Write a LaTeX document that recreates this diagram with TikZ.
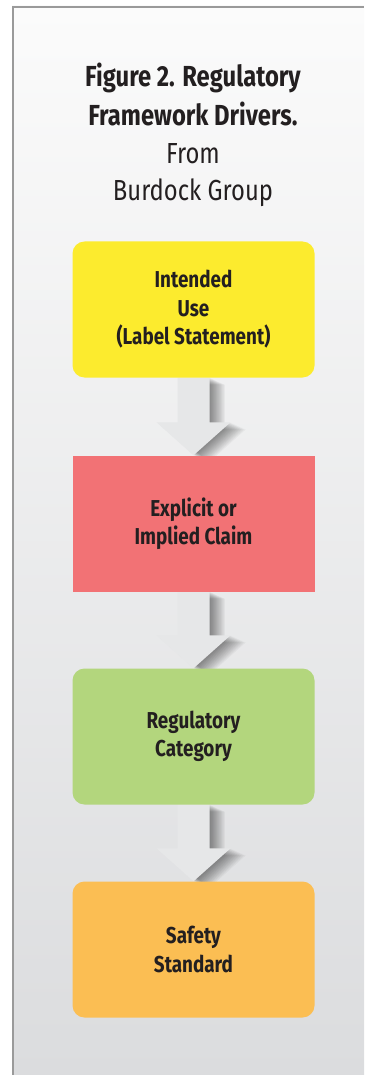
\documentclass[tikz,border=0pt]{standalone}
\usepackage{fontspec}
\setmainfont{Fira Sans}[FakeStretch=0.82]
\usetikzlibrary{calc}
\definecolor{bgtop}{HTML}{FBFBFB}
\definecolor{bgbot}{HTML}{DBDCDE}
\definecolor{frameline}{HTML}{9A9A9A}
\definecolor{ink}{HTML}{231F20}
\definecolor{cyellow}{HTML}{FCEB2E}
\definecolor{cred}{HTML}{F27275}
\definecolor{cgreen}{HTML}{B3D67D}
\definecolor{corange}{HTML}{FBBE53}
\definecolor{arrowfill}{HTML}{E6E7E8}
\pgfdeclarelayer{bg}
\pgfdeclarelayer{arrows}
\pgfsetlayers{bg,arrows,main}
\tikzset{
  stepbox/.style={minimum width=242pt, minimum height=136pt, inner sep=0pt,
    align=center, text=ink, font=\bfseries\fontsize{23}{28.5}\selectfont},
  titlebold/.style={anchor=base, text=ink, inner sep=0pt, font=\bfseries\fontsize{29}{39}\selectfont},
  titlereg/.style={anchor=base, text=ink, inner sep=0pt, font=\fontsize{29}{37}\selectfont},
}
% arrow polygon from (#1.south) to (#2.north), offset by (#3,#4)
\newcommand{\arrowpoly}[4]{%
  ($(#1.south)+(#3-16,#4)$) -- ($(#1.south)+(#3+16,#4)$) -- ($(#2.north)+(#3+16,#4-33)$)
  -- ($(#2.north)+(#3+37,#4-33)$) -- ($(#2.north)+(#3,#4)$) -- ($(#2.north)+(#3-37,#4-33)$)
  -- ($(#2.north)+(#3-16,#4-33)$) -- cycle}
\newcommand{\flowarrow}[2]{%
  \begin{pgfonlayer}{arrows}
  \foreach \k in {1,...,14}{
    \pgfmathsetmacro{\dx}{\k*1.1}
    \pgfmathsetmacro{\dy}{\k*0.5}
    \fill[black, opacity=0.035] \arrowpoly{#1}{#2}{\dx}{\dy};
  }
  \fill[arrowfill] \arrowpoly{#1}{#2}{0}{0};
  \end{pgfonlayer}%
}
\begin{document}
\begin{tikzpicture}[x=1pt, y=-1pt]
\useasboundingbox (0,0) rectangle (364,1075);
\begin{pgfonlayer}{bg}
  \fill[white] (0,0) rectangle (364,1075);
  \shade[top color=bgtop, bottom color=bgbot] (12,6) rectangle (364,1075);
  \draw[frameline, line width=1.6pt] (12.8,1075) -- (12.8,6.8) -- (364,6.8);
\end{pgfonlayer}

\node[titlebold] (t1) at (193,87) {Figure 2. Regulatory};
\node[titlebold] (t2) at (193,126) {Framework Drivers.};
\node[titlereg] (t3) at (193,164) {From};
\node[titlereg] (t4) at (193,201) {Burdock Group};

\node[stepbox, fill=cyellow, rounded corners=12pt] (b1) at (193.5,309.5)
  {Intended\\Use\\(Label Statement)};
\node[stepbox, fill=cred] (b2) at (193.5,523.5)
  {Explicit or\\Implied Claim};
\node[stepbox, fill=cgreen, rounded corners=12pt] (b3) at (193.5,736.5)
  {Regulatory\\Category};
\node[stepbox, fill=corange, rounded corners=12pt] (b4) at (193.5,949.5)
  {Safety\\Standard};

\flowarrow{b1}{b2}
\flowarrow{b2}{b3}
\flowarrow{b3}{b4}
\end{tikzpicture}
\end{document}
